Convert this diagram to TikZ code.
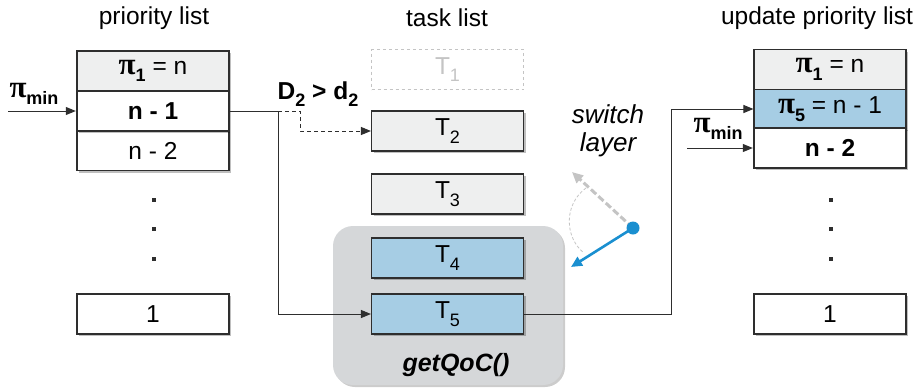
\documentclass[tikz,border=0pt]{standalone}
\usepackage{fontspec}
\setmainfont{Liberation Sans}
\newfontfamily\grk{Liberation Serif}
\usetikzlibrary{arrows.meta,shadows}
\definecolor{lgray}{HTML}{EEEFEF}
\definecolor{lblue}{HTML}{A6CDE4}
\definecolor{cgray}{HTML}{D5D7D9}
\definecolor{sblue}{HTML}{1A8FD0}
\definecolor{agray}{HTML}{C4C4C4}
\definecolor{ln}{HTML}{2E2E2E}
\newcommand\sbs[1]{\raisebox{-0.3em}{\fontsize{18}{18}\selectfont #1}}
\newcommand\mysub[1]{\raisebox{-0.3em}{\fontsize{18}{18}\selectfont\bfseries #1}}
\newcommand\pig{{\grk\fontsize{31}{31}\selectfont\bfseries π}}
\newcommand\pimin{\pig\mysub{min}}
\begin{document}
\begin{tikzpicture}[x=1pt,y=-1pt,
  font=\fontsize{24.5}{28}\selectfont,
  box/.style={draw=ln,line width=1.1pt,minimum width=152pt,minimum height=40pt,inner sep=0pt,fill=white,
    drop shadow={shadow xshift=2pt,shadow yshift=-2pt,opacity=0.25,fill=black}},
  thickbox/.style={box,line width=2.4pt},
  ghost/.style={draw=agray,dashed,line width=1pt,minimum width=152pt,minimum height=40pt,inner sep=0pt,text=agray},
  conn/.style={draw=ln,line width=1pt},
  arr/.style={conn,-{Triangle[length=10pt,width=8pt]}},
  dotsq/.style={fill=ln,minimum size=4pt,inner sep=0pt},
  title/.style={font=\fontsize{24.5}{28}\selectfont}]
\useasboundingbox (0,0) rectangle (918,391);

% titles
\node[title] (t1) at (154,18) {priority list};
\node[title] (t2) at (447,18) {task list};
\node[title] (t3) at (817,18) {update priority list};

% container
\node[draw=none,fill=cgray,rounded corners=20pt,minimum width=230pt,minimum height=159pt,
  drop shadow={shadow xshift=2pt,shadow yshift=-2pt,opacity=0.2,fill=black}] (grp) at (448,305.5) {};
\node[font=\fontsize{25}{28}\selectfont\bfseries\itshape] (qoc) at (456,365) {getQoC()};

% left list
\node[box,fill=lgray] (p1) at (153,71) {\pig\mysub{1} = n};
\node[box] (p3) at (153,150.5) {n - 2};
\node[thickbox] (p2) at (153,111) {\bfseries n - 1};
\node[dotsq] (ld1) at (154,200) {};
\node[dotsq] (ld2) at (154,229) {};
\node[dotsq] (ld3) at (154,259) {};
\node[box] (p4) at (153,314) {1};

% tasks
\node[ghost] (T1) at (447.5,69.5) {T\sbs{1}};
\node[box,fill=lgray] (T2) at (447.5,131) {T\sbs{2}};
\node[box,fill=lgray] (T3) at (447.5,194) {T\sbs{3}};
\node[box,fill=lblue] (T4) at (447.5,258) {T\sbs{4}};
\node[box,fill=lblue] (T5) at (447.5,314) {T\sbs{5}};

% right list
\node[box,fill=lgray] (r1) at (830,69.5) {\pig\mysub{1} = n};
\node[box,fill=lblue,minimum height=39pt] (r2) at (830,109) {\pig\mysub{5} = n - 1};
\node[thickbox] (r3) at (830,148) {\bfseries n - 2};
\node[dotsq] (rd1) at (831,200) {};
\node[dotsq] (rd2) at (831,229) {};
\node[dotsq] (rd3) at (831,259) {};
\node[box] (r4) at (830,314) {1};

% connectors
\coordinate (lin) at (8,111);
\draw[arr] (lin) -- (p2.west);
\node (lpm) at (34,94) {\pimin};

\coordinate (sp) at (278,111);
\coordinate (dk) at (300,111);
\draw[conn] (p2.east) -- (sp);
\draw[arr] (sp) |- (T5.west);
\draw[arr,dashed,dash pattern=on 4pt off 3pt] (sp) -- (dk) |- (T2.west);
\node[font=\fontsize{24.5}{28}\selectfont\bfseries] (dd) at (318,94) {D\mysub{2} > d\mysub{2}};

\coordinate (rk) at (671,314);
\draw[arr] (T5.east) -- (rk) |- (r2.west);
\coordinate (rin) at (687,148);
\draw[arr] (rin) -- (r3.west);
\node (rpm) at (718,129) {\pimin};

% switch layer
\node[font=\fontsize{26}{28}\selectfont\itshape,align=center] (sw) at (608,131) {switch\\layer};
\coordinate (pivot) at (633,228);
\coordinate (gtip) at (572,172);
\coordinate (btip) at (571,267);
\draw[agray,dashed,line width=0.8pt,dash pattern=on 3pt off 2pt] (586,188) .. controls (563,205) and (565,238) .. (584,253);
\draw[agray,line width=3pt,dash pattern=on 7pt off 3pt,-{Triangle[length=11pt,width=10pt]}] (pivot) -- (gtip);
\draw[sblue,line width=2.6pt,-{Triangle[length=11pt,width=10pt]}] (pivot) -- (btip);
\fill[sblue] (pivot) circle (6.5pt);
\end{tikzpicture}
\end{document}
